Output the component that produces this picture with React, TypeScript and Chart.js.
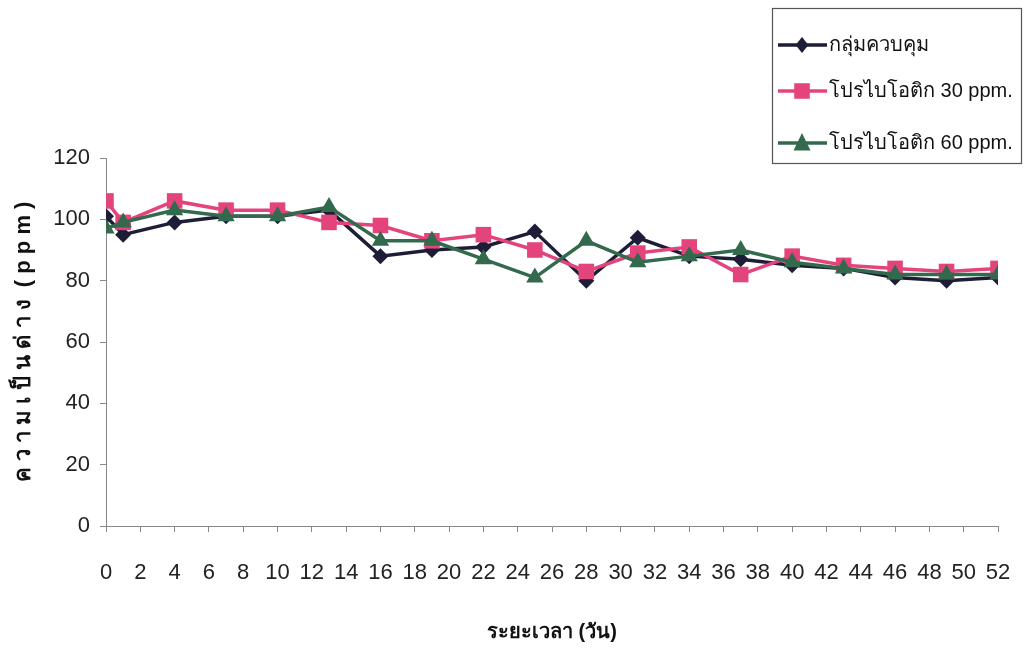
import React, { useEffect, useRef } from "react";
import { Chart, registerables } from "chart.js";

Chart.register(...registerables);

const days = [0, 1, 4, 7, 10, 13, 16, 19, 22, 25, 28, 31, 34, 37, 40, 43, 46, 49, 52];
const control = [101, 95, 99, 101, 101, 103, 88, 90, 91, 96, 80, 94, 88, 87, 85, 84, 81, 80, 81];
const probiotic30 = [106, 99, 106, 103, 103, 99, 98, 93, 95, 90, 83, 89, 91, 82, 88, 85, 84, 83, 84];
const probiotic60 = [97, 99, 103, 101, 101, 104, 93, 93, 87, 81, 93, 86, 88, 90, 86, 84, 82, 82, 82];
const seriesNames = ["กลุ่มควบคุม", "โปรไบโอติก 30 ppm.", "โปรไบโอติก 60 ppm."];
const yTitle = "ค ว า ม เ ป็ น ด่ า ง  ( p p m )";
const xTitle = "ระยะเวลา (วัน)";

const FONT = "'Liberation Sans Narrow', 'Arial Narrow', 'Liberation Sans', sans-serif";

const colors = ["#1d1d38", "#e4447c", "#33694c"];
const styles = ["rectRot", "rect", "triangle"];
const radii = [8, 11, 10];

function drawMarker(ctx: CanvasRenderingContext2D, style: string, r: number, x: number, y: number) {
  ctx.beginPath();
  if (style === "rect") {
    const s = Math.SQRT1_2 * r;
    ctx.rect(x - s, y - s, 2 * s, 2 * s);
  } else if (style === "rectRot") {
    ctx.moveTo(x, y - r);
    ctx.lineTo(x + r * 0.8, y);
    ctx.lineTo(x, y + r);
    ctx.lineTo(x - r * 0.8, y);
    ctx.closePath();
  } else {
    ctx.moveTo(x, y - r);
    ctx.lineTo(x + r * 0.85, y + r * 0.75);
    ctx.lineTo(x - r * 0.85, y + r * 0.75);
    ctx.closePath();
  }
  ctx.fill();
}

const legendPlugin = {
  id: "boxLegend",
  afterDraw(chart: any) {
    const ctx = chart.ctx as CanvasRenderingContext2D;
    ctx.save();
    ctx.strokeStyle = "#555";
    ctx.lineWidth = 1.2;
    ctx.strokeRect(772.5, 8.5, 249, 155);
    const rows = [45, 91, 143];
    seriesNames.forEach((name, i) => {
      const y = rows[i];
      ctx.strokeStyle = colors[i];
      ctx.lineWidth = 3.5;
      ctx.beginPath();
      ctx.moveTo(778, y);
      ctx.lineTo(827, y);
      ctx.stroke();
      ctx.fillStyle = colors[i];
      drawMarker(ctx, styles[i], radii[i], 802, y);
      ctx.fillStyle = "#111";
      ctx.font = "20px " + FONT;
      ctx.textBaseline = "middle";
      ctx.textAlign = "left";
      ctx.fillText(name, 829, y);
    });
    ctx.restore();
  },
};

export default function App() {
  const ref = useRef<HTMLCanvasElement | null>(null);
  useEffect(() => {
    if (!ref.current) return;
    const series = [control, probiotic30, probiotic60];
    const chart = new Chart(ref.current, {
      type: "line",
      data: {
        datasets: series.map((vals, i) => ({
          label: seriesNames[i],
          data: days.map((d, j) => ({ x: d, y: vals[j] })),
          borderColor: colors[i],
          backgroundColor: colors[i],
          borderWidth: 3.5,
          pointStyle: styles[i] as any,
          pointRadius: radii[i],
          pointBorderWidth: 0,
          pointBackgroundColor: colors[i],
          tension: 0,
          order: 2 - i,
        })),
      },
      options: {
        animation: false,
        responsive: false,
        maintainAspectRatio: false,
        layout: { padding: { left: 6, right: 26, top: 158, bottom: 4 } },
        plugins: { legend: { display: false }, tooltip: { enabled: false } },
        scales: {
          x: {
            type: "linear",
            min: 0,
            max: 52,
            afterFit: (s: any) => { s.height = 122; s.paddingLeft = 0; s.paddingRight = 0; },
            ticks: { stepSize: 2, color: "#222", font: { size: 22, family: FONT }, padding: 28, maxRotation: 0, autoSkip: false },
            grid: { drawOnChartArea: false, drawTicks: true, tickLength: 6, color: "#888" },
            border: { display: true, color: "#888", width: 1 },
            title: { display: true, text: xTitle, color: "#111", font: { size: 20, weight: "bold", family: FONT }, padding: { top: 0, bottom: 4 } },
          },
          y: {
            min: 0,
            max: 120,
            afterFit: (s: any) => { s.width = 100; s.paddingTop = 0; s.paddingBottom = 0; },
            ticks: { stepSize: 20, color: "#222", font: { size: 22, family: FONT }, padding: 10 },
            grid: { drawOnChartArea: false, drawTicks: true, tickLength: 6, color: "#888" },
            border: { display: true, color: "#888", width: 1 },
            title: { display: true, text: yTitle, color: "#111", font: { size: 22, weight: "bold", family: FONT }, padding: { top: 5, bottom: 0 } },
          },
        },
      },
      plugins: [legendPlugin],
    });
    return () => chart.destroy();
  }, []);
  return (
    <div style={{ position: "fixed", left: 0, top: 0, width: 1024, height: 652, background: "#fff" }}>
      <canvas ref={ref} width={1024} height={652} style={{ width: 1024, height: 652 }} />
    </div>
  );
}
